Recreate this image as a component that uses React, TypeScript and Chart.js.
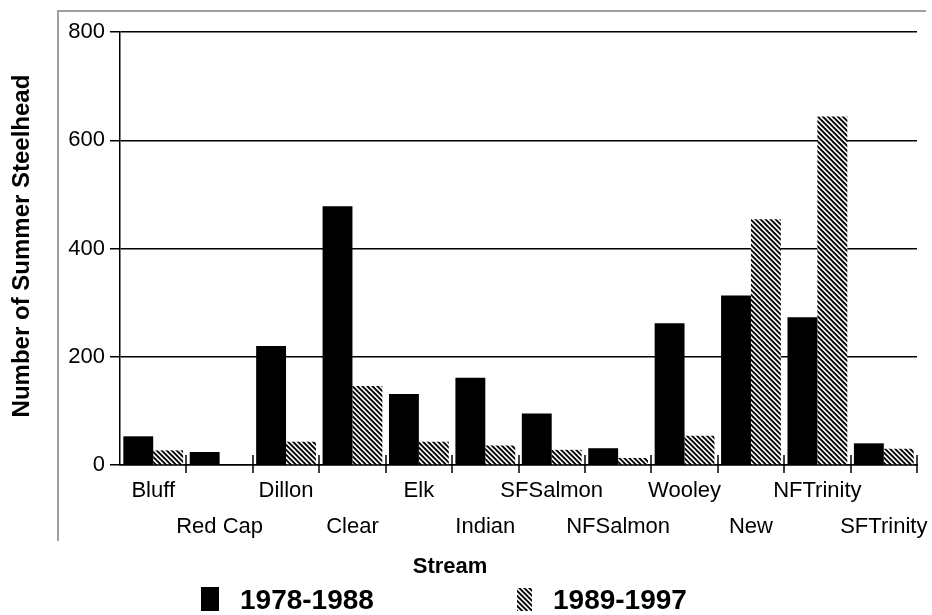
import React, { useEffect, useRef } from "react";
import { Chart, registerables } from "chart.js";

Chart.register(...registerables);

const categories = ["Bluff", "Red Cap", "Dillon", "Clear", "Elk", "Indian", "SFSalmon", "NFSalmon", "Wooley", "New", "NFTrinity", "SFTrinity"];
const series1Name = "1978-1988";
const series2Name = "1989-1997";
const series1 = [53, 24, 220, 478, 131, 161, 95, 31, 262, 313, 273, 40];
const series2 = [27, 0, 43, 146, 43, 36, 28, 13, 54, 454, 644, 30];
const yTicks = [0, 200, 400, 600, 800];
const xTitle = "Stream";
const yTitle = "Number of Summer Steelhead";

const FAMILY = "'Liberation Sans', Arial, sans-serif";

function makeHatch(ctx: CanvasRenderingContext2D): CanvasPattern | string {
  const P = 5;
  const W = 2.6;
  const c = document.createElement("canvas");
  c.width = P;
  c.height = P;
  const g = c.getContext("2d");
  if (!g) return "#000";
  const img = g.createImageData(P, P);
  const S = 6;
  for (let y = 0; y < P; y++) {
    for (let x = 0; x < P; x++) {
      let cov = 0;
      for (let sy = 0; sy < S; sy++) {
        for (let sx = 0; sx < S; sx++) {
          const fx = x + (sx + 0.5) / S;
          const fy = y + (sy + 0.5) / S;
          const d = (((fx - fy) % P) + P) % P;
          if (d < W) cov++;
        }
      }
      const f = cov / (S * S);
      const v = Math.round(255 * (1 - f));
      const i = (y * P + x) * 4;
      img.data[i] = v;
      img.data[i + 1] = v;
      img.data[i + 2] = v;
      img.data[i + 3] = 255;
    }
  }
  g.putImageData(img, 0, 0);
  return ctx.createPattern(c, "repeat") || "#000";
}

export default function App() {
  const canvasRef = useRef<HTMLCanvasElement | null>(null);

  useEffect(() => {
    document.body.style.margin = "0";
    const canvas = canvasRef.current;
    if (!canvas) return;
    const ctx0 = canvas.getContext("2d");
    if (!ctx0) return;
    const hatch = makeHatch(ctx0);

    const deco = {
      id: "deco",
      beforeDraw(chart: any) {
        const ctx = chart.ctx as CanvasRenderingContext2D;
        ctx.save();
        ctx.fillStyle = "#fff";
        ctx.fillRect(0, 0, chart.width, chart.height);
        ctx.strokeStyle = "#a0a0a0";
        ctx.lineWidth = 2;
        ctx.beginPath();
        ctx.moveTo(58, 541);
        ctx.lineTo(58, 11);
        ctx.lineTo(926, 11);
        ctx.stroke();
        ctx.restore();
      },
      afterDraw(chart: any) {
        const ctx = chart.ctx as CanvasRenderingContext2D;
        const xs = chart.scales.x;
        const ca = chart.chartArea;
        ctx.save();
        const half = (xs.getPixelForValue(1) - xs.getPixelForValue(0)) / 2;
        ctx.strokeStyle = "#000";
        ctx.lineWidth = 1.5;
        for (let i = 0; i < categories.length; i++) {
          const px = Math.round(xs.getPixelForValue(i) + half);
          ctx.beginPath();
          ctx.moveTo(px, ca.bottom - 10);
          ctx.lineTo(px, ca.bottom + 8);
          ctx.stroke();
        }
        ctx.fillStyle = "#000";
        ctx.textAlign = "center";
        ctx.textBaseline = "middle";
        ctx.font = `bold 22px ${FAMILY}`;
        ctx.fillText(xTitle, 450, 567);
        ctx.save();
        ctx.translate(22, 246);
        ctx.rotate(-Math.PI / 2);
        ctx.font = `bold 24px ${FAMILY}`;
        ctx.fillText(yTitle, 0, 0);
        ctx.restore();

        // legend
        const ds = chart.data.datasets;
        ctx.textAlign = "left";
        ctx.font = `bold 28px ${FAMILY}`;
        ctx.fillStyle = ds[0].backgroundColor;
        ctx.fillRect(201, 587, 18, 24);
        ctx.fillStyle = "#000";
        ctx.fillText(ds[0].label, 240, 601);
        ctx.fillStyle = ds[1].backgroundColor;
        ctx.fillRect(517, 588, 15, 23);
        ctx.fillStyle = "#000";
        ctx.fillText(ds[1].label, 553, 601);
        ctx.restore();
      },
    };

    const chart = new Chart(canvas, {
      type: "bar",
      data: {
        labels: categories,
        datasets: [
          { label: series1Name, data: series1, backgroundColor: "#000", borderWidth: 0, categoryPercentage: 0.9, barPercentage: 1.0 },
          { label: series2Name, data: series2, backgroundColor: hatch as any, borderWidth: 0, categoryPercentage: 0.9, barPercentage: 1.0 },
        ],
      },
      options: {
        animation: false,
        responsive: false,
        devicePixelRatio: 1,
        layout: { padding: { top: 32, right: 15, left: 0, bottom: 0 } },
        plugins: {
          legend: { display: false },
          tooltip: { enabled: false },
          title: { display: false },
        },
        scales: {
          x: {
            type: "category",
            offset: true,
            grid: { display: true, drawOnChartArea: false, drawTicks: true, tickLength: 8, color: "rgba(0,0,0,0)", offset: true },
            border: { display: true, color: "#000", width: 1.5 },
            ticks: {
              autoSkip: false,
              maxRotation: 0,
              minRotation: 0,
              padding: 0,
              color: "#000",
              font: { family: FAMILY, size: 22, lineHeight: 1.62 },
              callback: (_v: any, i: number) => (i % 2 === 0 ? categories[i] : ["", categories[i]]),
            },
            afterFit: (s: any) => {
              s.height = 150;
            },
          },
          y: {
            min: 0,
            max: 800,
            afterBuildTicks: (s: any) => {
              s.ticks = yTicks.map((v) => ({ value: v }));
            },
            grid: { color: "#000", lineWidth: 1.5, tickLength: 10, drawTicks: true },
            border: { color: "#000", width: 1.5 },
            ticks: { padding: 5, color: "#000", font: { family: FAMILY, size: 22 } },
            afterFit: (s: any) => {
              s.width = 120;
            },
          },
        },
      },
      plugins: [deco],
    } as any);

    return () => {
      chart.destroy();
    };
  }, []);

  return (
    <div style={{ width: 932, height: 615, overflow: "hidden" }}>
      <canvas ref={canvasRef} width={932} height={615} style={{ display: "block" }} />
    </div>
  );
}
